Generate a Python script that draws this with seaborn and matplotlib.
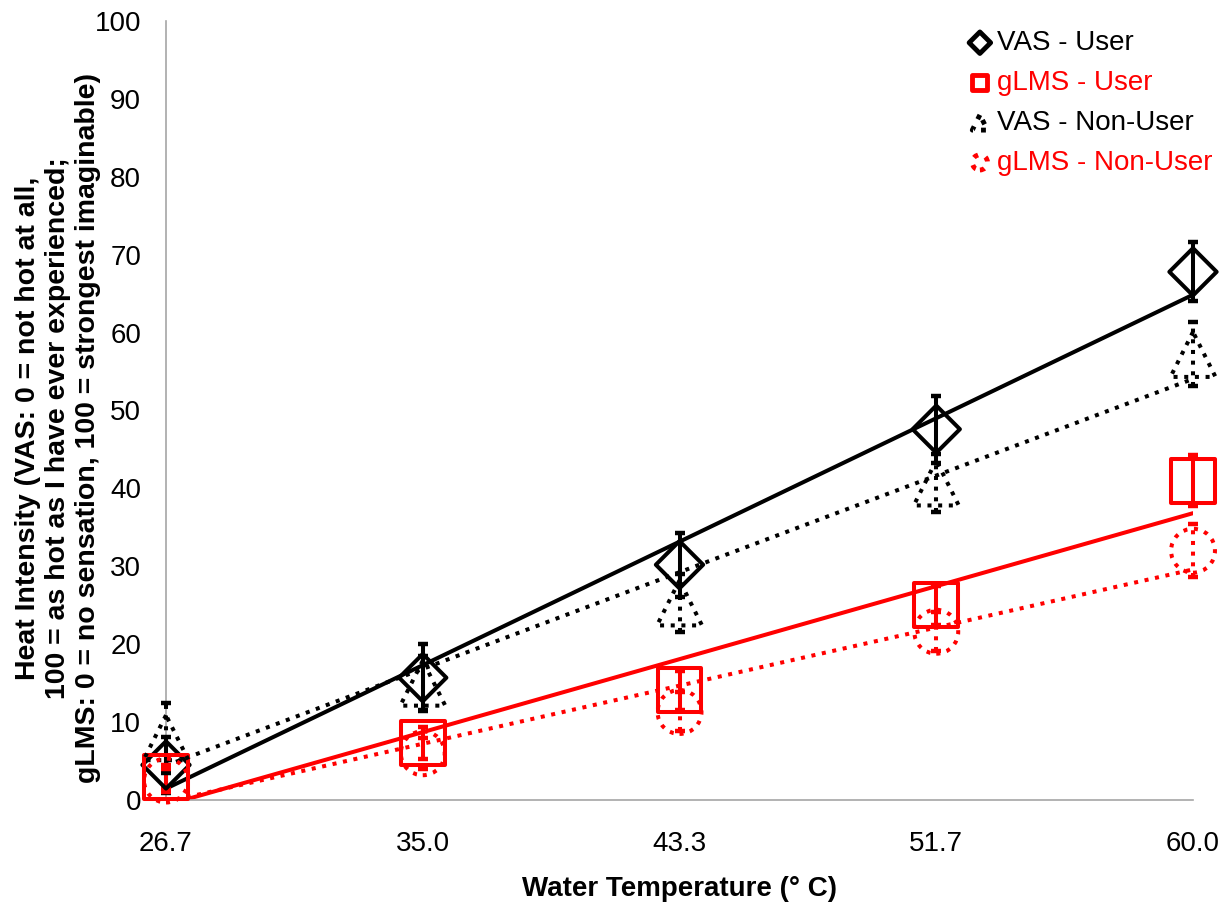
import numpy as np
import matplotlib
matplotlib.use("Agg")
import matplotlib.pyplot as plt
import seaborn as sns

# water temperature categories (deg C)
temps = ["26.7", "35.0", "43.3", "51.7", "60.0"]

# mean ratings and error bar half-widths
vas_user = [4.5, 15.7, 30.2, 47.6, 67.8]
vas_user_err = [3.6, 4.3, 4.1, 4.3, 3.8]
glms_user = [3.0, 7.3, 14.1, 25.0, 41.0]
glms_user_err = [1.5, 2.1, 2.5, 2.5, 3.3]
vas_non = [8.0, 15.0, 25.3, 40.7, 57.2]
vas_non_err = [4.5, 3.5, 3.7, 3.7, 4.1]
glms_non = [2.5, 6.0, 11.3, 21.6, 32.0]
glms_non_err = [1.5, 2.0, 2.5, 2.5, 3.4]

labels = ["VAS - User", "gLMS - User", "VAS - Non-User", "gLMS - Non-User"]

sns.set_style("white", rc={"text.color": "black", "axes.labelcolor": "black",
                           "xtick.color": "black", "ytick.color": "black"})
plt.rcParams["font.family"] = ["Liberation Sans", "DejaVu Sans"]

fig = plt.figure(figsize=(12.28, 9.09), dpi=100)
ax = fig.add_axes([166 / 1228, 1 - 800 / 909, 1027 / 1228, 779 / 909])

pos = np.arange(len(temps))
series = [
    (vas_user, vas_user_err, "black", "D", 580, "-"),
    (glms_user, glms_user_err, "red", "s", 1000, "-"),
    (vas_non, vas_non_err, "black", "^", 1050, ":"),
    (glms_non, glms_non_err, "red", "o", 1000, ":"),
]

handles = []
for (vals, err, col, mk, size, ls), lab in zip(series, labels):
    # linear trend line
    sns.regplot(x=pos, y=vals, ax=ax, ci=None, scatter=False, truncate=True,
                color=col, line_kws=dict(lw=2.9, ls=ls))
    eb = ax.errorbar(pos, vals, yerr=err, fmt="none", ecolor=col, elinewidth=2.9,
                     capsize=3.5, capthick=3.2, clip_on=False, zorder=3)
    for c in eb.lines[2]:
        c.set_linestyle(ls)
        c.set_clip_on(False)
    for c in eb.lines[1]:
        c.set_clip_on(False)
    ax.scatter(pos, vals, s=size, marker=mk, facecolors="none", edgecolors=col,
               linewidths=2.9, linestyle=ls, clip_on=False, zorder=4)
    handles.append(ax.scatter([], [], s=120, marker=mk, facecolors="none",
                              edgecolors=col, linewidths=3.5, linestyle=ls, label=lab))

ax.set_xlim(0, 4)
ax.set_ylim(0, 100)
ax.set_xticks(pos)
ax.set_xticklabels(temps)
ax.set_yticks(np.arange(0, 101, 10))
ax.tick_params(axis="both", length=0, labelsize=20)
ax.tick_params(axis="y", pad=18)
ax.tick_params(axis="x", pad=22)
for s in ["top", "right"]:
    ax.spines[s].set_visible(False)
for s in ["left", "bottom"]:
    ax.spines[s].set_color("#A6A6A6")
    ax.spines[s].set_linewidth(1.2)

ax.set_xlabel("Water Temperature (° C)", fontsize=20, fontweight="bold", labelpad=14)
fig.text(58 / 1228, 1 - 428 / 909,
         "Heat Intensity (VAS: 0 = not hot at all,\n"
         "100 = as hot as I have ever experienced;\n"
         "gLMS: 0 = no sensation, 100 = strongest imaginable)",
         rotation=90, ha="center", va="center", multialignment="center",
         fontsize=20.5, fontweight="bold", linespacing=1.2)

ax.legend(handles=handles, loc="upper left", bbox_to_anchor=(966 / 1228, 1 - 30 / 909),
          bbox_transform=fig.transFigure, frameon=False, fontsize=20,
          labelcolor=["black", "red", "black", "red"], handletextpad=0.1,
          handlelength=1.0, labelspacing=0.5, borderpad=0, borderaxespad=0)

fig.savefig("out.png", dpi=100)
